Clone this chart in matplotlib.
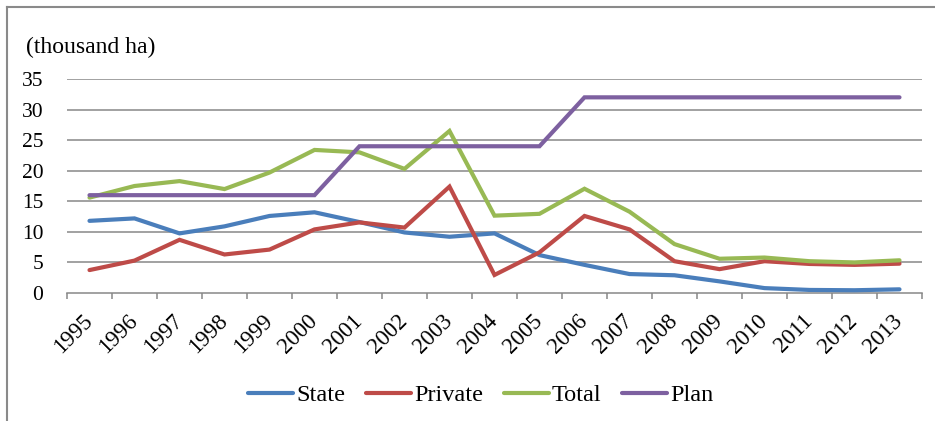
import matplotlib
matplotlib.use("Agg")
import matplotlib.pyplot as plt
from matplotlib.lines import Line2D
import numpy as np

years = [str(y) for y in range(1995, 2014)]
state = [11.8, 12.2, 9.75, 10.9, 12.6, 13.2, 11.6, 9.9, 9.2, 9.75, 6.2, 4.6, 3.1, 2.9, 1.9, 0.8, 0.5, 0.45, 0.6]
private = [3.75, 5.3, 8.7, 6.3, 7.1, 10.4, 11.55, 10.7, 17.4, 2.95, 6.65, 12.6, 10.4, 5.2, 3.9, 5.2, 4.75, 4.6, 4.8]
total = [15.6, 17.5, 18.3, 17.0, 19.7, 23.4, 23.0, 20.3, 26.5, 12.65, 12.95, 17.05, 13.3, 8.0, 5.6, 5.8, 5.2, 5.0, 5.35]
plan = [16, 16, 16, 16, 16, 16, 24, 24, 24, 24, 24, 32, 32, 32, 32, 32, 32, 32, 32]
series_names = ["State", "Private", "Total", "Plan"]
colors = ["#4A7EBB", "#BE4B48", "#98B954", "#7D60A0"]
yticks = [0, 5, 10, 15, 20, 25, 30, 35]

plt.rcParams['font.family'] = ['Liberation Serif', 'DejaVu Serif']

W, H = 935, 421
fig = plt.figure(figsize=(W / 100, H / 100), dpi=100)
ax = fig.add_axes([67 / W, 1 - 293 / H, (922 - 67) / W, (293 - 79) / H])

x = np.arange(len(years))
for vals, name, c in zip([state, private, total, plan], series_names, colors):
    ax.plot(x, vals, color=c, lw=3.0, label=name, solid_capstyle='round', solid_joinstyle='miter', zorder=3)

grid_c = "#878787"
ax.set_xlim(-0.5, len(years) - 0.5)
ax.set_ylim(0, 35)
ax.set_yticks(yticks)
ax.set_yticklabels([str(v) for v in yticks], fontsize=15.5)
for v in yticks[1:]:
    ax.axhline(v, color=grid_c, lw=1.1, zorder=1)

for s in ["top", "right", "left"]:
    ax.spines[s].set_visible(False)
ax.spines["bottom"].set_color(grid_c)
ax.spines["bottom"].set_linewidth(1.1)

ax.tick_params(axis='y', length=0, pad=17)
ax.set_xticks(x)
ax.set_xticklabels(years, fontsize=16.5)
ax.set_xticks(np.arange(-0.5, len(years), 1), minor=True)
ax.tick_params(axis='x', which='major', length=0, pad=18)
ax.tick_params(axis='x', which='minor', length=4, width=1.1, color=grid_c, direction='out')
plt.setp(ax.get_xticklabels(), rotation=45, ha='right', va='center', rotation_mode='anchor')

fig.text(26 / W, 1 - 47 / H, "(thousand ha)", fontsize=17, ha='left', va='center')

# outer frame (partially visible)
fig.add_artist(Line2D([7 / W, 7 / W], [0, 1 - 7 / H], color="#8a8a8a", lw=1.5, transform=fig.transFigure))
fig.add_artist(Line2D([7 / W, 1], [1 - 7 / H, 1 - 7 / H], color="#8a8a8a", lw=1.5, transform=fig.transFigure))

fig.legend(loc='center', bbox_to_anchor=(481 / W, 1 - 395 / H), ncol=4, frameon=False,
           fontsize=17.5, handlelength=1.85, handletextpad=0.12, columnspacing=0.86)

fig.savefig("out.png", dpi=100)
